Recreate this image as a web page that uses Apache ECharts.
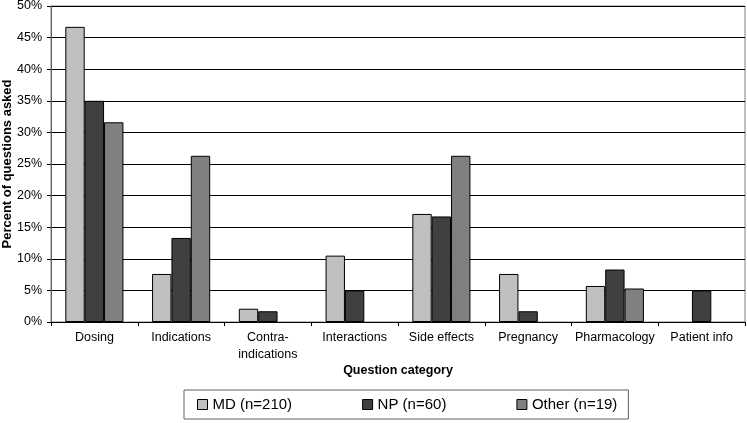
<!DOCTYPE html>
<html>
<head>
<meta charset="utf-8">
<script src="https://cdn.jsdelivr.net/npm/echarts@6/dist/echarts.min.js"></script>
<style>
html,body{margin:0;padding:0;background:#fff;}
#chart{width:747px;height:423px;}
</style>
</head>
<body>
<div id="chart"></div>
<script>
const categories = ['Dosing', 'Indications', 'Contra-\nindications', 'Interactions', 'Side effects', 'Pregnancy', 'Pharmacology', 'Patient info'];
const seriesNames = ['MD (n=210)', 'NP (n=60)', 'Other (n=19)'];
const mdValues = [46.7, 7.6, 2.1, 10.5, 17.1, 7.6, 5.7, 0];
const npValues = [35.0, 13.3, 1.7, 5.0, 16.7, 1.7, 8.3, 5.0];
const otherValues = [31.6, 26.3, 0, 0, 26.3, 0, 5.3, 0];
const yTicks = [0, 5, 10, 15, 20, 25, 30, 35, 40, 45, 50];

const FONT = '"Liberation Sans", Arial, Helvetica, sans-serif';
const colors = ['#c0c0c0', '#404040', '#808080'];

const chart = echarts.init(document.getElementById('chart'), null, {renderer: 'canvas'});
const mk = (name, data, color) => ({
  name: name,
  type: 'bar',
  data: data.map(v => v === 0 ? {value: 0, itemStyle: {borderWidth: 0}} : v),
  barGap: '0%',
  barCategoryGap: '33%',
  itemStyle: {color: color, borderColor: '#000', borderWidth: 1},
  emphasis: {disabled: true},
  animation: false
});
chart.setOption({
  animation: false,
  textStyle: {fontFamily: FONT},
  grid: {left: 51, right: 2, top: 6, bottom: 101, show: true, borderColor: '#808080', borderWidth: 1, containLabel: false, outerBoundsMode: 'none'},
  legend: {
    left: 184, top: 390,
    data: seriesNames,
    itemWidth: 10, itemHeight: 10, itemGap: 70,
    padding: [7, 11, 7, 13],
    borderColor: '#606060', borderWidth: 1,
    icon: 'rect',
    itemStyle: {borderColor: '#000', borderWidth: 1},
    textStyle: {fontFamily: FONT, fontSize: 15, color: '#000'},
    selectedMode: false
  },
  xAxis: {
    type: 'category',
    data: categories,
    name: 'Question category',
    nameLocation: 'middle',
    nameGap: 42,
    nameMoveOverlap: false,
    nameTextStyle: {fontFamily: FONT, fontSize: 12.5, fontWeight: 'bold', color: '#000'},
    axisLine: {lineStyle: {color: '#000', width: 1}},
    axisTick: {show: true, length: 4, lineStyle: {color: '#000'}},
    axisLabel: {fontFamily: FONT, fontSize: 12.5, color: '#000', margin: 7, lineHeight: 17, interval: 0}
  },
  yAxis: {
    type: 'value',
    min: 0, max: 50, interval: 5,
    name: 'Percent of questions asked',
    nameLocation: 'middle',
    nameGap: 37,
    nameRotate: 90,
    nameMoveOverlap: false,
    nameTextStyle: {fontFamily: FONT, fontSize: 13, fontWeight: 'bold', color: '#000'},
    axisLine: {show: true, lineStyle: {color: '#606060', width: 1}},
    axisTick: {show: true, length: 4, lineStyle: {color: '#000'}},
    axisLabel: {fontFamily: FONT, fontSize: 12.5, color: '#000', margin: 9, formatter: function(v){ return yTicks.indexOf(v) >= 0 ? v + '%' : ''; }},
    splitLine: {show: true, lineStyle: {color: '#000', width: 1}}
  },
  series: [
    mk(seriesNames[0], mdValues, colors[0]),
    mk(seriesNames[1], npValues, colors[1]),
    mk(seriesNames[2], otherValues, colors[2])
  ]
});
</script>
</body>
</html>
